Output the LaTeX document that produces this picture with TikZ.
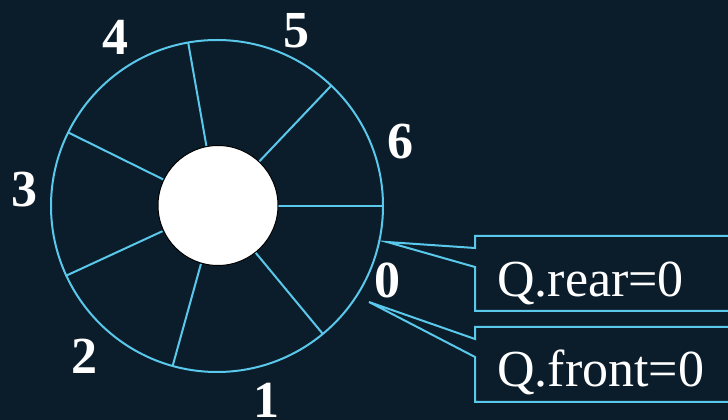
\documentclass[tikz,border=0pt]{standalone}
\usepackage{fontspec}
\setmainfont{Liberation Serif}
\usetikzlibrary{calc}
\definecolor{bgnavy}{RGB}{11,29,43}
\definecolor{ringblue}{RGB}{90,200,235}

\begin{document}
\begin{tikzpicture}[x=1pt,y=1pt,
        ring/.style={ringblue,line width=2pt},
        slotnum/.style={text=white,inner sep=0pt,font=\fontsize{52}{52}\selectfont\bfseries},
        ptrtext/.style={text=white,inner sep=0pt,anchor=base west,font=\fontsize{52}{52}\selectfont}]
                \clip (0,0) rectangle (728,420);
                \fill[bgnavy] (0,0) rectangle (728,420);
                \coordinate (c) at (217,214);
                \draw[ring] (c) circle (166pt);
                \foreach \a in {0,46.5,100,153.7,204.8,254.5,309.6}
                    \draw[ring] ($(c)+(\a:60pt)$) -- ($(c)+(\a:166pt)$);
                \filldraw[fill=white,draw=black,line width=1pt] (218,214.5) circle (60pt);
                % slot numbers
                \node[slotnum] (n0) at (387,140) {0};
                \node[slotnum] (n1) at (266,20) {1};
                \node[slotnum] (n2) at (84,64) {2};
                \node[slotnum] (n3) at (24,230) {3};
                \node[slotnum] (n4) at (115,383) {4};
                \node[slotnum] (n5) at (296,389) {5};
                \node[slotnum] (n6) at (400,278) {6};
                % pointers
                \coordinate (reartip) at (387,178);
                \coordinate (fronttip) at (369,118);
                \draw[ring] (740,184) -- (475,184) -- (475,172) -- (reartip)
                    -- (475,153) -- (475,109) -- (740,109);
                \draw[ring] (740,93) -- (475,93) -- (475,81) -- (fronttip)
                    -- (475,63) -- (475,18) -- (740,18);
                \node[ptrtext] (rear) at (497,123) {Q.rear=0};
                \node[ptrtext] (front) at (497,33) {Q.front=0};
\end{tikzpicture}
\end{document}
